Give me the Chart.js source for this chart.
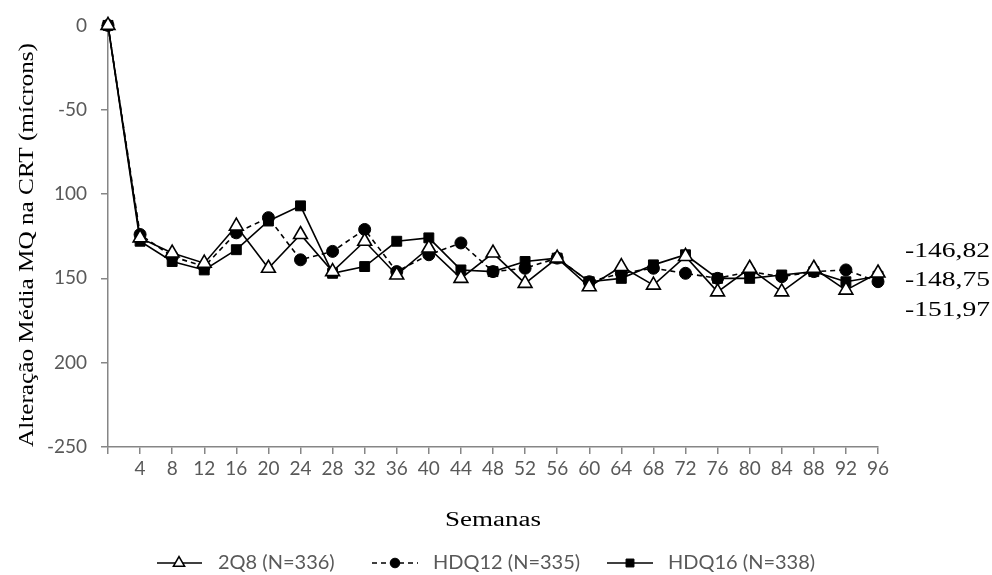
<!DOCTYPE html>
<html>
<head>
<meta charset="utf-8">
<script src="https://cdn.jsdelivr.net/npm/chart.js@4/dist/chart.umd.min.js"></script>
<style>
html,body{margin:0;padding:0;background:#fff;}
#wrap{width:992px;height:575px;position:relative;}
</style>
</head>
<body>
<div id="wrap"><canvas id="c" width="992" height="575"></canvas></div>
<script>
const weeks = ['', '4', '8', '12', '16', '20', '24', '28', '32', '36', '40', '44', '48', '52', '56', '60', '64', '68', '72', '76', '80', '84', '88', '92', '96'];
const s2Q8  = [0, -126, -135, -141, -119, -144, -124, -146, -128, -148, -132, -150, -135, -153, -138, -155, -143, -154, -137, -158, -144, -158, -144, -157, -146.82];
const hdq12 = [0, -124, -137, -143, -123, -114, -139, -134, -121, -146, -136, -129, -146, -144, -138, -152, -147, -144, -147, -150, -146, -149, -146, -145, -151.97];
const hdq16 = [0, -128, -140, -145, -133, -116, -107, -147, -143, -128, -126, -145, -146, -140, -138, -152, -150, -142, -136, -150, -150, -148, -146, -152, -148.75];
const yTickValues = [0, -50, -100, -150, -200, -250];
const yTickLabels = ['0', '-50', '100', '150', '200', '-250'];
const endLabels = ['-146,82', '-148,75', '-151,97'];
const seriesNames = ['2Q8 (N=336)', 'HDQ12 (N=335)', 'HDQ16 (N=338)'];
const xTitle = 'Semanas';
const yTitle = 'Alteração Média MQ na CRT (mícrons)';

const tickFont = {family: 'Lato', size: 19};
const tickColor = '#595959';
const axisColor = '#868686';

function stretchedText(ctx, text, cx, cy, targetW, rot, align) {
  const w = ctx.measureText(text).width;
  const sx = targetW / w;
  ctx.save();
  ctx.translate(cx, cy);
  ctx.rotate(rot);
  ctx.scale(sx, 1);
  ctx.textAlign = align;
  ctx.textBaseline = 'middle';
  ctx.fillText(text, 0, 0);
  ctx.restore();
}

const extrasPlugin = {
  id: 'extras',
  afterDraw(chart) {
    const ctx = chart.ctx;
    ctx.save();
    ctx.fillStyle = '#000';
    ctx.font = '22px "Liberation Serif"';
    stretchedText(ctx, yTitle, 27, 245, 404, -Math.PI / 2, 'center');
    ctx.font = '20px "Liberation Serif"';
    stretchedText(ctx, xTitle, 493, 521, 96, 0, 'center');
    const ys = [252, 281, 311];
    endLabels.forEach((t, i) => stretchedText(ctx, t, 905, ys[i], 85, 0, 'left'));
    const legY = 563;
    const items = [
      {x0: 157, x1: 202, mx: 179, tx: 218},
      {x0: 372, x1: 418, mx: 395, tx: 433},
      {x0: 607, x1: 653, mx: 630, tx: 668}
    ];
    items.forEach((it, i) => {
      const ds = chart.data.datasets[i];
      ctx.strokeStyle = '#000';
      ctx.lineWidth = 1.5;
      ctx.setLineDash(ds.borderDash || []);
      ctx.beginPath();
      ctx.moveTo(it.x0, legY);
      ctx.lineTo(it.x1, legY);
      ctx.stroke();
      ctx.setLineDash([]);
      ctx.fillStyle = ds.pointBackgroundColor;
      ctx.strokeStyle = '#000';
      ctx.lineWidth = ds.pointBorderWidth;
      Chart.helpers.drawPoint(ctx, {
        pointStyle: ds.pointStyle,
        radius: ds.pointRadius * 0.8,
        borderWidth: ds.pointBorderWidth,
        rotation: 0
      }, it.mx, legY);
      ctx.font = '20px Lato';
      ctx.fillStyle = tickColor;
      ctx.textAlign = 'left';
      ctx.textBaseline = 'middle';
      ctx.fillText(seriesNames[i], it.tx, legY);
    });
    ctx.restore();
  }
};

new Chart(document.getElementById('c'), {
  type: 'line',
  data: {
    labels: weeks,
    datasets: [
      {label: seriesNames[0], data: s2Q8, borderColor: '#000', borderWidth: 1.6,
       pointStyle: 'triangle', pointRadius: 8, pointBackgroundColor: '#fff', pointBorderColor: '#000', pointBorderWidth: 1.6,
       tension: 0, clip: false},
      {label: seriesNames[1], data: hdq12, borderColor: '#000', borderWidth: 1.6, borderDash: [5, 4],
       pointStyle: 'circle', pointRadius: 6, pointBackgroundColor: '#000', pointBorderColor: '#000', pointBorderWidth: 1,
       tension: 0, clip: false},
      {label: seriesNames[2], data: hdq16, borderColor: '#000', borderWidth: 1.6,
       pointStyle: 'rect', pointRadius: 7, pointBackgroundColor: '#000', pointBorderColor: '#000', pointBorderWidth: 1,
       tension: 0, clip: false}
    ]
  },
  options: {
    responsive: false,
    animation: false,
    layout: {padding: {left: 0, right: 114, top: 23, bottom: 58}},
    plugins: {legend: {display: false}, tooltip: {enabled: false}},
    scales: {
      x: {
        offset: false,
        grid: {display: true, drawOnChartArea: false, offset: false, tickLength: 7, color: axisColor, lineWidth: 1.5},
        border: {display: true, color: axisColor, width: 1.5},
        ticks: {font: tickFont, color: tickColor, padding: 3, maxRotation: 0, autoSkip: false},
        afterFit(s) { s.height = 70; }
      },
      y: {
        min: -250, max: 0,
        afterBuildTicks(s) { s.ticks = yTickValues.map(v => ({value: v})); },
        grid: {display: true, drawOnChartArea: false, tickLength: 7, color: axisColor, lineWidth: 1.5},
        border: {display: true, color: axisColor, width: 1.5},
        ticks: {font: tickFont, color: tickColor, padding: 14,
          callback(v) { const i = yTickValues.indexOf(v); return i >= 0 ? yTickLabels[i] : ''; }},
        afterFit(s) { s.width = 108; }
      }
    }
  },
  plugins: [extrasPlugin]
});
</script>
</body>
</html>
